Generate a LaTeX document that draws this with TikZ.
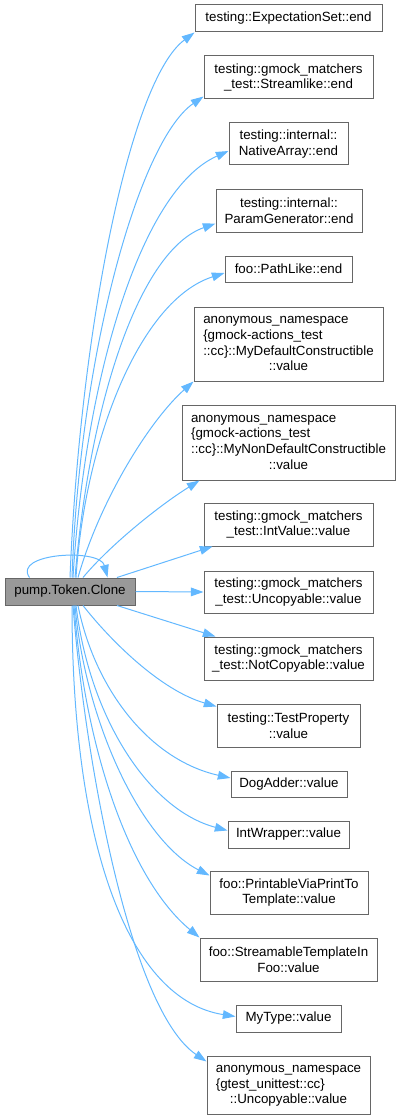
\documentclass[tikz,border=0pt]{standalone}
\usepackage{fontspec}
\setmainfont{Liberation Sans}
\usetikzlibrary{arrows.meta,calc}
\definecolor{edgec}{HTML}{63B8FF}
\definecolor{bordc}{HTML}{666666}
\definecolor{mainf}{HTML}{999999}
\begin{document}
\begin{tikzpicture}[x=0.75pt,y=-0.75pt,
  box/.style={draw=bordc, line width=0.75pt, fill=white, inner sep=0pt, align=center, font=\fontsize{10pt}{11.8pt}\selectfont},
  sz/.style 2 args={minimum width=#1*0.75pt, minimum height=#2*0.75pt},
  mainbox/.style={box, fill=mainf},
  link/.style={draw=edgec, line width=0.75pt, -{Triangle[length=9.5pt,width=6.5pt]}}]
\useasboundingbox (0,0) rectangle (400,1120);

\node[mainbox, sz={130}{27}] (main) at (70,591.5) {pump.Token.Clone};

\node[box, sz={187}{27}] (n1) at (288.5,18.5) {testing::ExpectationSet::end};
\node[box, sz={169}{43}] (n2) at (288.5,77.5) {testing::gmock\_matchers\\\_test::Streamlike::end};
\node[box, sz={119}{42}] (n3) at (288.5,144) {testing::internal::\\NativeArray::end};
\node[box, sz={146}{43}] (n4) at (289,210.5) {testing::internal::\\ParamGenerator::end};
\node[box, sz={127}{26}] (n5) at (288.5,269) {foo::PathLike::end};
\node[box, sz={189}{74}] (n6) at (288.5,344) {\begin{tabular}{@{}l@{}}anonymous\_namespace\\\{gmock-actions\_test\\::cc\}::MyDefaultConstructible\\\multicolumn{1}{@{}c@{}}{::value}\end{tabular}};
\node[box, sz={213}{75}] (n7) at (288.5,442.5) {\begin{tabular}{@{}l@{}}anonymous\_namespace\\\{gmock-actions\_test\\::cc\}::MyNonDefaultConstructible\\\multicolumn{1}{@{}c@{}}{::value}\end{tabular}};
\node[box, sz={169}{43}] (n8) at (288.5,524.5) {testing::gmock\_matchers\\\_test::IntValue::value};
\node[box, sz={169}{42}] (n9) at (288.5,592) {testing::gmock\_matchers\\\_test::Uncopyable::value};
\node[box, sz={169}{43}] (n10) at (288.5,658.5) {testing::gmock\_matchers\\\_test::NotCopyable::value};
\node[box, sz={143}{43}] (n11) at (288.5,725.5) {testing::TestProperty\\::value};
\node[box, sz={116}{26}] (n12) at (289,784) {DogAdder::value};
\node[box, sz={121}{27}] (n13) at (288.5,834.5) {IntWrapper::value};
\node[box, sz={158}{43}] (n14) at (289,892.5) {foo::PrintableViaPrintTo\\Template::value};
\node[box, sz={177}{43}] (n15) at (288.5,959.5) {foo::StreamableTemplateIn\\Foo::value};
\node[box, sz={105}{27}] (n16) at (288.5,1018.5) {MyType::value};
\node[box, sz={163}{58}] (n17) at (288.5,1085) {\begin{tabular}{@{}l@{}}anonymous\_namespace\\\{gtest\_unittest::cc\}\\\multicolumn{1}{@{}c@{}}{::Uncopyable::value}\end{tabular}};

% self loop
\draw[link] ($(main.north west)+(25,0)$) .. controls (12,553) and (100,548) .. ($(main.north west)+(103,0)$);

% upward edges
\draw[link] (main.north) .. controls (80,330) and (130,80) .. (n1.south west);
\draw[link] ($(main.north)+(2,0)$) .. controls (80,350) and (140,140) .. ($(n2.south west)+(0,-3)$);
\draw[link] ($(main.north)+(3,0)$) .. controls (85,380) and (140,190) .. ($(n3.west)+(0,7)$);
\draw[link] ($(main.north)+(5,0)$) .. controls (90,400) and (140,250) .. ($(n4.west)+(0,13)$);
\draw[link] ($(main.north)+(6,0)$) .. controls (85,440) and (140,300) .. ($(n5.west)+(0,4)$);
\draw[link] ($(main.north)+(8,0)$) .. controls (100,500) and (150,420) .. (n6.south west);
\draw[link] ($(main.north)+(13,0)$) .. controls (110,545) and (160,505) .. ($(n7.south west)+(18,0)$);
\draw[link] ($(main.north)+(47,0)$) -- ($(n8.south west)+(9,0)$);
% horizontal
\draw[link] (main.east) -- (n9.west);
% downward edges
\draw[link] ($(main.south)+(47,0)$) -- ($(n10.north west)+(12,0)$);
\draw[link] ($(main.south)+(13,0)$) .. controls (110,640) and (160,690) .. ($(n11.north west)+(0,3)$);
\draw[link] ($(main.south)+(8,0)$) .. controls (95,690) and (150,760) .. ($(n12.west)+(0,-6)$);
\draw[link] ($(main.south)+(6,0)$) .. controls (90,720) and (150,810) .. ($(n13.west)+(0,-4)$);
\draw[link] ($(main.south)+(5,0)$) .. controls (85,720) and (140,840) .. ($(n14.north west)+(0,5)$);
\draw[link] ($(main.south)+(4,0)$) .. controls (85,750) and (130,880) .. (n15.north west);
\draw[link] ($(main.south)+(2,0)$) .. controls (72,850) and (130,1000) .. ($(n16.west)+(0,-2)$);
\draw[link] ($(main.south)+(3,0)$) .. controls (85,760) and (130,1010) .. ($(n17.north west)+(0,6)$);
\end{tikzpicture}
\end{document}
